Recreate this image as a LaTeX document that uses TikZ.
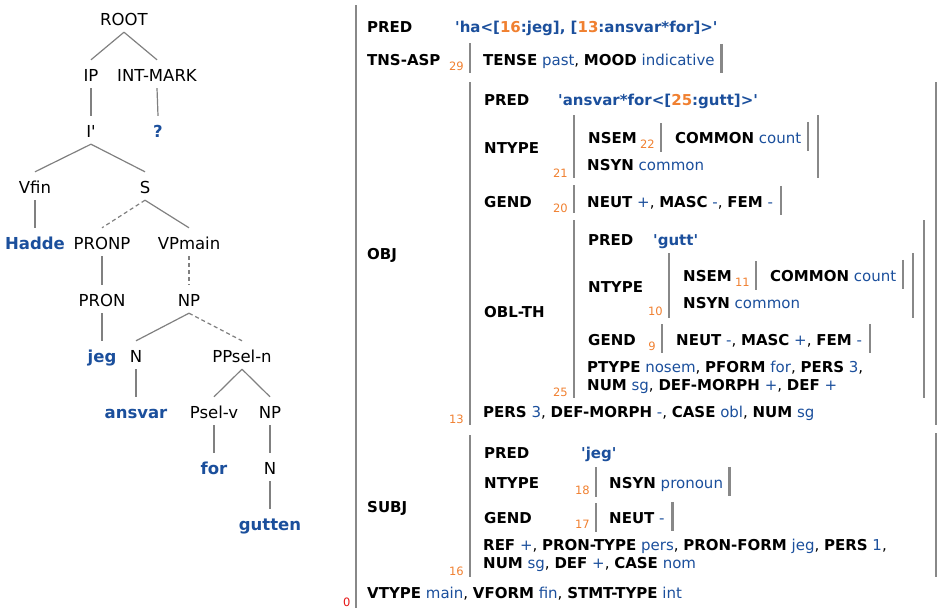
\documentclass[tikz,border=0pt]{standalone}
\usepackage{fontspec}
\setmainfont{DejaVu Sans}
\definecolor{fblue}{RGB}{27,79,156}
\definecolor{forange}{RGB}{240,128,48}
\definecolor{barg}{RGB}{136,136,136}
\definecolor{edgeg}{RGB}{128,128,128}
\definecolor{fred}{RGB}{230,20,20}
\newcommand\vl[1]{\textcolor{fblue}{#1}}
\newcommand\nm[1]{\textcolor{forange}{#1}}
\newcommand\sq{\textquotesingle}
\begin{document}
\begin{tikzpicture}[x=1pt,y=-1pt,
  tl/.style={font=\fontsize{16.5}{18}\selectfont, anchor=base, inner xsep=0pt, inner ysep=7pt, text height=14pt, text depth=0pt},
  tleaf/.style={tl, font=\fontsize{16.5}{18}\selectfont\bfseries, text=fblue},
  edge/.style={draw=edgeg, line width=1.2pt},
  dedge/.style={edge, dash pattern=on 4pt off 3pt},
  fs/.style={font=\fontsize{15}{18}\selectfont, anchor=base west, inner sep=0pt},
  fsb/.style={fs, text height=13pt, text depth=0pt, inner ysep=8pt, inner xsep=0pt},
  fn/.style={font=\fontsize{11.5}{13}\selectfont, text=forange, anchor=base east, inner sep=0pt},
  fbar/.style={draw=barg, line width=2.6pt},
  rbar/.style={fbar},
]
\useasboundingbox (0,0) rectangle (946,608);

% ---------------- tree ----------------
\node[tl] (root) at (124,25) {ROOT};
\node[tl] (ip) at (91,81) {IP};
\node[tl] (intmark) at (157,81) {INT-MARK};
\node[tl] (ibar) at (91,137) {I\sq};
\node[tleaf] (q) at (158,137) {?};
\node[tl] (vfin) at (35,193) {Vfin};
\node[tl] (s) at (145,193) {S};
\node[tleaf] (hadde) at (35,249) {Hadde};
\node[tl] (pronp) at (102,249) {PRONP};
\node[tl] (vpmain) at (189,249) {VPmain};
\node[tl] (pron) at (102,306) {PRON};
\node[tl] (npa) at (189,306) {NP};
\node[tleaf] (jeg) at (102,362) {jeg};
\node[tl] (na) at (136,362) {N};
\node[tl] (ppsel) at (242,362) {PPsel-n};
\node[tleaf] (ansvar) at (136,418) {ansvar};
\node[tl] (pselv) at (214,418) {Psel-v};
\node[tl] (npb) at (270,418) {NP};
\node[tleaf] (for) at (214,474) {for};
\node[tl] (nb) at (270,474) {N};
\node[tleaf] (gutten) at (270,530) {gutten};

\draw[edge] (root.south) -- (ip.north);
\draw[edge] (root.south) -- (intmark.north);
\draw[edge] (ip.south) -- (ibar.north);
\draw[edge] (intmark.south) -- (q.north);
\draw[edge] (ibar.south) -- (vfin.north);
\draw[edge] (ibar.south) -- (s.north);
\draw[edge] (vfin.south) -- (hadde.north);
\draw[dedge] (s.south) -- (pronp.north);
\draw[edge] (s.south) -- (vpmain.north);
\draw[edge] (pronp.south) -- (pron.north);
\draw[dedge] (vpmain.south) -- (npa.north);
\draw[edge] (pron.south) -- (jeg.north);
\draw[edge] (npa.south) -- (na.north);
\draw[dedge] (npa.south) -- (ppsel.north);
\draw[edge] (na.south) -- (ansvar.north);
\draw[edge] (ppsel.south) -- (pselv.north);
\draw[edge] (ppsel.south) -- (npb.north);
\draw[edge] (pselv.south) -- (for.north);
\draw[edge] (npb.south) -- (nb.north);
\draw[edge] (nb.south) -- (gutten.north);

% ---------------- f-structure ----------------
\draw[fbar] (356,5) -- (356,608);
\node[font=\fontsize{11.5}{13}\selectfont, text=fred, anchor=base west, inner sep=0pt] (n0) at (343,606) {0};

\node[fs] (pred0) at (367,32) {\textbf{PRED}};
\node[fs] (pred0v) at (455,32) {\textcolor{fblue}{\textbf{\sq ha<[\nm{16}:jeg], [\nm{13}:ansvar*for]>\sq}}};

\node[fs] (tnsl) at (367,65) {\textbf{TNS-ASP}};
\node[fn] (n29) at (464,70) {29};
\draw[fbar] (470,43) -- (470,73);
\node[fsb] (tns) at (483,65) {\textbf{TENSE} \vl{past}, \textbf{MOOD} \vl{indicative}};
\draw[rbar] ([xshift=6.5pt]tns.north east) -- ([xshift=6.5pt]tns.south east);

% OBJ
\node[fs] (objl) at (367,259) {\textbf{OBJ}};
\draw[fbar] (470,82) -- (470,425);
\draw[fbar] (936,82) -- (936,425);
\node[fn] (n13) at (464,423) {13};
\node[fs] (opred) at (484,105) {\textbf{PRED}};
\node[fs] (opredv) at (558,105) {\textcolor{fblue}{\textbf{\sq ansvar*for<[\nm{25}:gutt]>\sq}}};
\node[fs] (ontype) at (484,153) {\textbf{NTYPE}};
\node[fn] (n21) at (568,177) {21};
\draw[fbar] (574,115) -- (574,178);
\node[fs] (onsem) at (588,143) {\textbf{NSEM}};
\node[fn] (n22) at (655,148) {22};
\draw[fbar] (661,123) -- (661,152);
\node[fsb] (ocomm) at (675,143) {\textbf{COMMON} \vl{count}};
\draw[rbar] ([xshift=6.5pt]ocomm.north east) -- ([xshift=6.5pt]ocomm.south east);
\node[fs] (onsyn) at (587,170) {\textbf{NSYN} \vl{common}};
\draw[fbar] (818,115) -- (818,178);
\node[fs] (ogend) at (484,207) {\textbf{GEND}};
\node[fn] (n20) at (568,212) {20};
\draw[fbar] (574,185) -- (574,213);
\node[fsb] (ogendv) at (587,207) {\textbf{NEUT} \vl{+}, \textbf{MASC} \vl{-}, \textbf{FEM} \vl{-}};
\draw[rbar] ([xshift=8pt]ogendv.north east) -- ([xshift=8pt]ogendv.south east);

% OBL-TH
\node[fs] (oblth) at (484,317) {\textbf{OBL-TH}};
\draw[fbar] (574,220) -- (574,398);
\draw[fbar] (924,220) -- (924,398);
\node[fn] (n25) at (568,396) {25};
\node[fs] (bpred) at (588,245) {\textbf{PRED}};
\node[fs] (bpredv) at (653,245) {\textcolor{fblue}{\textbf{\sq gutt\sq}}};
\node[fs] (bntype) at (588,292) {\textbf{NTYPE}};
\node[fn] (n10) at (663,315) {10};
\draw[fbar] (669,253) -- (669,318);
\node[fs] (bnsem) at (683,281) {\textbf{NSEM}};
\node[fn] (n11) at (750,286) {11};
\draw[fbar] (756,261) -- (756,290);
\node[fsb] (bcomm) at (770,281) {\textbf{COMMON} \vl{count}};
\draw[rbar] ([xshift=6.5pt]bcomm.north east) -- ([xshift=6.5pt]bcomm.south east);
\node[fs] (bnsyn) at (683,308) {\textbf{NSYN} \vl{common}};
\draw[fbar] (913,253) -- (913,318);
\node[fs] (bgend) at (588,345) {\textbf{GEND}};
\node[fn] (n9) at (656,350) {9};
\draw[fbar] (662,324) -- (662,353);
\node[fsb] (bgendv) at (676,345) {\textbf{NEUT} \vl{-}, \textbf{MASC} \vl{+}, \textbf{FEM} \vl{-}};
\draw[rbar] ([xshift=8pt]bgendv.north east) -- ([xshift=8pt]bgendv.south east);
\node[fs] (bla) at (587,372) {\textbf{PTYPE} \vl{nosem}, \textbf{PFORM} \vl{for}, \textbf{PERS} \vl{3},};
\node[fs] (blb) at (587,390) {\textbf{NUM} \vl{sg}, \textbf{DEF-MORPH} \vl{+}, \textbf{DEF} \vl{+}};
\node[fs] (ola) at (483,417) {\textbf{PERS} \vl{3}, \textbf{DEF-MORPH} \vl{-}, \textbf{CASE} \vl{obl}, \textbf{NUM} \vl{sg}};

% SUBJ
\node[fs] (subjl) at (367,512) {\textbf{SUBJ}};
\draw[fbar] (470,435) -- (470,577);
\draw[fbar] (936,433) -- (936,577);
\node[fn] (n16) at (464,575) {16};
\node[fs] (spred) at (484,458) {\textbf{PRED}};
\node[fs] (spredv) at (581,458) {\textcolor{fblue}{\textbf{\sq jeg\sq}}};
\node[fs] (sntype) at (484,488) {\textbf{NTYPE}};
\node[fn] (n18) at (590,494) {18};
\draw[fbar] (596,467) -- (596,497);
\node[fsb] (snsyn) at (609,488) {\textbf{NSYN} \vl{pronoun}};
\draw[rbar] ([xshift=6.5pt]snsyn.north east) -- ([xshift=6.5pt]snsyn.south east);
\node[fs] (sgend) at (484,523) {\textbf{GEND}};
\node[fn] (n17) at (590,528) {17};
\draw[fbar] (596,503) -- (596,532);
\node[fsb] (sgendv) at (609,523) {\textbf{NEUT} \vl{-}};
\draw[rbar] ([xshift=8pt]sgendv.north east) -- ([xshift=8pt]sgendv.south east);
\node[fs] (sla) at (483,550) {\textbf{REF} \vl{+}, \textbf{PRON-TYPE} \vl{pers}, \textbf{PRON-FORM} \vl{jeg}, \textbf{PERS} \vl{1},};
\node[fs] (slb) at (483,568) {\textbf{NUM} \vl{sg}, \textbf{DEF} \vl{+}, \textbf{CASE} \vl{nom}};

\node[fs] (vt) at (367,598) {\textbf{VTYPE} \vl{main}, \textbf{VFORM} \vl{fin}, \textbf{STMT-TYPE} \vl{int}};
\end{tikzpicture}
\end{document}
